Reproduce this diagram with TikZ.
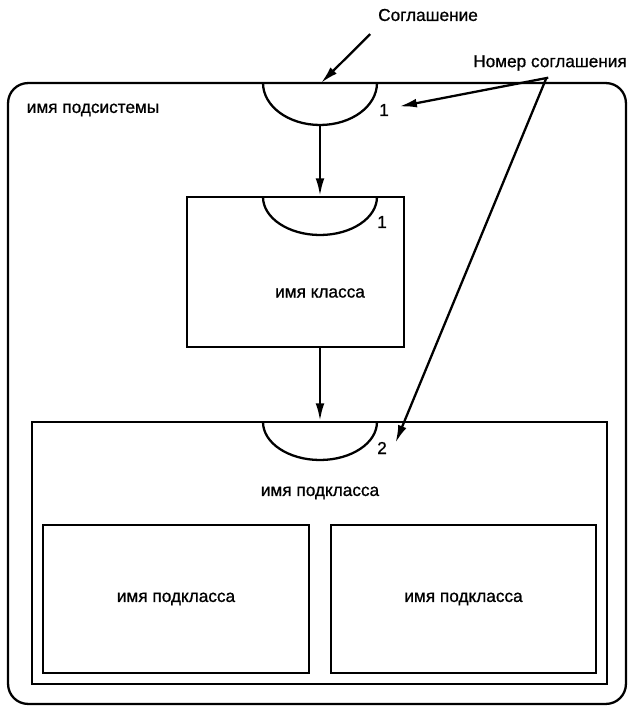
\documentclass[tikz,border=0pt]{standalone}
\usepackage{fontspec}
\setmainfont[FakeBold=0.9]{Liberation Sans}
\usetikzlibrary{positioning, arrows.meta}

\begin{document}
\begin{tikzpicture}[x=0.02cm,y=-0.02cm,line width=1.3pt,
    >={Latex[length=10pt,width=5pt]},
    every node/.style={font=\fontsize{9.8}{12}\selectfont},
    box/.style={draw,rectangle,inner sep=0pt}]
  \useasboundingbox (0,0) rectangle (629,706);
  % subsystem frame
  \node[box,rounded corners=0.4cm,minimum width=12.36cm,minimum height=12.42cm]
       (subsys) at (317,393.5) {};
  \node (subsysname) at (93,110) {имя подсистемы};
  % class and subclasses
  \node[box,minimum width=4.34cm,minimum height=3cm] (klass) at (295.5,272) {};
  \node (klassname) at (320,293) {имя класса};
  \node[box,minimum width=11.5cm,minimum height=5.24cm] (sub) at (319.5,553) {};
  \node (subname) at (320,493) {имя подкласса};
  \node[box,minimum width=5.32cm,minimum height=2.96cm] (subA) at (176,599) {имя подкласса};
  \node[box,minimum width=5.3cm,minimum height=2.96cm] (subB) at (463.5,599) {имя подкласса};
  % contracts: half ellipses hanging from the top edges
  \draw (263,83) arc[start angle=180,end angle=270,x radius=1.14cm,y radius=0.84cm]
        coordinate (k0)
        arc[start angle=270,end angle=360,x radius=1.14cm,y radius=0.84cm];
  \draw (263,197) arc[start angle=180,end angle=270,x radius=1.14cm,y radius=0.76cm]
        coordinate (k1)
        arc[start angle=270,end angle=360,x radius=1.14cm,y radius=0.76cm];
  \draw (263,422) arc[start angle=180,end angle=270,x radius=1.14cm,y radius=0.76cm]
        coordinate (k2)
        arc[start angle=270,end angle=360,x radius=1.14cm,y radius=0.76cm];
  \node (n0) at (384,110) {1};
  \node (n1) at (382,222) {1};
  \node (n2) at (382,448) {2};
  \draw[->] (k0) -- (k0 |- klass.north);
  \draw[->] (k1 |- klass.south) -- (k1 |- sub.north);
  % callouts
  \coordinate (agrtip) at (321,83);
  \node (agr) at (428,15) {Соглашение};
  \draw[->] ([shift={(-1,6)}]agr.south west) -- (agrtip);
  \node (num) at (550,63) {Номер соглашения};
  \draw[->] ([xshift=-1pt]num.south) -- ([xshift=2pt,yshift=2pt]n0.east);
  \draw[->] ([xshift=-2pt]num.south) -- ([xshift=1pt,yshift=3pt]n2.east);
\end{tikzpicture}
\end{document}
